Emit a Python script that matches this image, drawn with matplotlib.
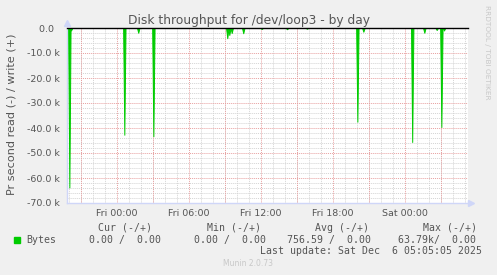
import matplotlib
matplotlib.use("Agg")
import matplotlib.pyplot as plt
from matplotlib.patches import Rectangle
from matplotlib.ticker import MultipleLocator

# hours relative to Fri 00:00, read throughput in bytes/s (negative = read)
spike_hours = [-3.97, -3.83, 0.61, 1.77, 3.03, 9.19, 9.36, 9.56, 10.52,
               12.06, 14.17, 15.83, 20.03, 20.53, 24.6, 25.61, 26.64,
               27.03, 27.25]
spike_read = [-63790, -1000, -42700, -1900, -43300, -4100, -2800, -2000,
              -2100, -400, -500, -300, -37500, -1500, -45600, -1900, -800,
              -39600, -1000]

xtick_hours = [0, 6, 12, 18, 24]
xtick_labels = ["Fri 00:00", "Fri 06:00", "Fri 12:00", "Fri 18:00", "Sat 00:00"]
ytick_values = [0, -10000, -20000, -30000, -40000, -50000, -60000, -70000]
ytick_labels = ["0.0  ", "-10.0 k", "-20.0 k", "-30.0 k", "-40.0 k",
                "-50.0 k", "-60.0 k", "-70.0 k"]

legend_headers = ["Cur (-/+)", "Min (-/+)", "Avg (-/+)", "Max (-/+)"]
legend_values = ["0.00 /  0.00", "0.00 /  0.00", "756.59 /  0.00", "63.79k/  0.00"]

W, H = 497, 275
green = "#00cc00"
font_col = "#555555"
axis_col = "#cfd6f8"


def fx(x):
    return x / W


def fy(y):
    return 1 - y / H


fig = plt.figure(figsize=(W / 100, H / 100), dpi=100)
fig.patch.set_facecolor("#f0f0f0")
ax = fig.add_axes([fx(67), fy(203), 401 / W, 175 / H])
ax.set_facecolor("#ffffff")

ax.set_xlim(-4.167, 29.25)
ax.set_ylim(-70000, 0)

# grid like rrdtool: grey dotted minor, red dotted major
ax.xaxis.set_minor_locator(MultipleLocator(1))
ax.yaxis.set_minor_locator(MultipleLocator(2000))
ax.set_xticks(xtick_hours, xtick_labels)
ax.set_yticks(ytick_values, ytick_labels)
ax.grid(which="minor", color="#d4d4d4", linestyle=(0, (1, 1)), lw=0.7)
ax.grid(which="major", axis="y", color="#e8a0a0", linestyle=(0, (1, 1)), lw=0.7)
for h in range(-3, 30, 3):
    ax.axvline(h, color="#e8a0a0", linestyle=(0, (1, 1)), lw=0.7, zorder=0.6)
ax.set_axisbelow(True)

ax.tick_params(which="both", length=0, colors=font_col, labelsize=6.8)
ax.tick_params(axis="y", pad=5)
ax.tick_params(axis="x", pad=4)

for s in ["top", "right"]:
    ax.spines[s].set_visible(False)
for s in ["left", "bottom"]:
    ax.spines[s].set_color(axis_col)
    ax.spines[s].set_linewidth(1)

ax.plot([0], [1.03], marker="^", ms=4, color=axis_col, transform=ax.transAxes,
        clip_on=False, zorder=6)
ax.plot([1.008], [0], marker=">", ms=4, color=axis_col, transform=ax.transAxes,
        clip_on=False, zorder=6)

w = 0.1
for h, d in zip(spike_hours, spike_read):
    ax.fill_between([h - w, h, h + w], [0, d, 0], 0, color=green, lw=0.7,
                    zorder=3)

ax.axhline(0, color="black", lw=1, clip_on=False, zorder=5)

fig.text(fx(249), fy(24), "Disk throughput for /dev/loop3 - by day",
         ha="center", va="baseline", fontsize=8.8, color=font_col)
fig.text(fx(12), fy(114), "Pr second read (-) / write (+)", rotation=90,
         ha="center", va="center", fontsize=8.1, color=font_col)
fig.text(fx(487), fy(52), "RRDTOOL / TOBI OETIKER", rotation=270,
         ha="center", va="center", fontsize=5.3, color="#c8c8c8")

mono = "DejaVu Sans Mono"
header_x = [97.7, 206.7, 315, 422.7]
for x, t in zip(header_x, legend_headers):
    fig.text(fx(x), fy(228), t, ha="left", va="center", fontsize=7.1,
             family=mono, color=font_col)

fig.patches.append(Rectangle((fx(14), fy(242.5)), 6 / W, 6 / H,
                             transform=fig.transFigure, color=green))
fig.text(fx(26), fy(240), "Bytes", ha="left", va="center", fontsize=7.1,
         family=mono, color=font_col)
value_x = [89.3, 194.3, 286.7, 397.7]
for x, t in zip(value_x, legend_values):
    fig.text(fx(x), fy(240), t, ha="left", va="center", fontsize=7.1,
             family=mono, color=font_col)

fig.text(fx(482), fy(251.5), "Last update: Sat Dec  6 05:05:05 2025",
         ha="right", va="center", fontsize=7.1, family=mono, color=font_col)
fig.text(fx(248), fy(264), "Munin 2.0.73", ha="center", va="center",
         fontsize=5.5, color="#c8c8c8")

fig.savefig("out.png", dpi=100, facecolor=fig.get_facecolor())
